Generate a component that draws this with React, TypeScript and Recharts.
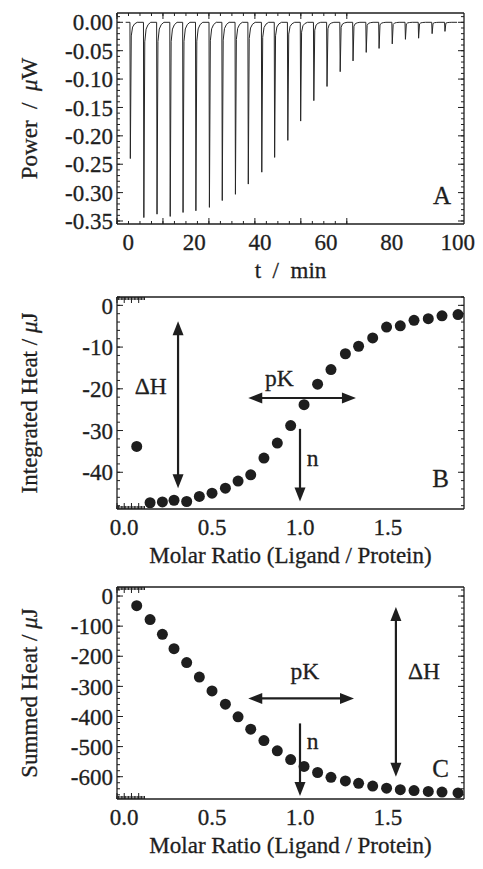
import React from "react";
import { ComposedChart, Line, Scatter, XAxis, YAxis, ReferenceLine, ReferenceDot } from "recharts";

// ---- panel A: raw thermogram ----
const INJECTION_TIMES = [0.5, 4.6, 8.6, 12.6, 16.5, 20.4, 24.5, 28.4, 32.4, 36.3, 40.4, 44.3, 48.3, 52.2, 56.2, 60.2, 64.2, 68.1, 72.1, 76.0, 80.0, 84.0, 88.0, 92.1, 96.0];
const PEAK_POWER = [-0.24, -0.344, -0.338, -0.342, -0.335, -0.332, -0.326, -0.314, -0.303, -0.285, -0.264, -0.238, -0.208, -0.174, -0.138, -0.113, -0.087, -0.068, -0.053, -0.046, -0.038, -0.03, -0.028, -0.02, -0.016];
// shape of one injection peak (minutes after injection, share of peak depth)
const PEAK_SHAPE_DT = [0, 0.12, 0.4, 0.8, 1.4, 2.2];
const PEAK_SHAPE_SHARE = [0, 1, 0.1, 0.035, 0.012, 0];
const TRACE_START = -0.8;
const TRACE_END = 99.8;

// ---- panels B and C ----
const MOLAR_RATIO = [0.072, 0.148, 0.218, 0.284, 0.356, 0.428, 0.5, 0.576, 0.648, 0.72, 0.795, 0.871, 0.947, 1.023, 1.1, 1.176, 1.258, 1.333, 1.413, 1.492, 1.57, 1.648, 1.729, 1.807, 1.898];
const INTEGRATED_HEAT = [-33.8, -47.3, -47.1, -46.7, -47.0, -45.8, -45.0, -43.8, -42.1, -40.6, -36.6, -33.0, -28.8, -23.8, -18.9, -15.4, -11.6, -9.8, -7.8, -5.2, -4.9, -3.6, -3.2, -2.5, -2.2];
const SUMMED_HEAT = [-32, -78, -127, -175, -221, -269, -315, -359, -401, -442, -480, -514, -543, -566, -586, -602, -614, -622, -631, -638, -643, -646, -649, -651, -654];

// tick labels
const A_X_TICKS = [0, 20, 40, 60, 80, 100];
const A_Y_TICKS = [0, -0.05, -0.1, -0.15, -0.2, -0.25, -0.3, -0.35];
const MR_TICKS = [0, 0.5, 1, 1.5];
const B_Y_TICKS = [0, -10, -20, -30, -40];
const C_Y_TICKS = [0, -100, -200, -300, -400, -500, -600];

// annotations (data coordinates)
const B_ARROWS = [
  { from: [0.307, -3.8], to: [0.307, -43.8], both: true },
  { from: [0.706, -22.2], to: [1.318, -22.2], both: true },
  { from: [1.0, -29.6], to: [1.0, -47.0], both: false },
];
const B_NOTES = [
  { x: 0.152, y: -19.2, text: "ΔH" },
  { x: 0.883, y: -17.4, text: "pK" },
  { x: 1.072, y: -36.6, text: "n" },
  { x: 1.799, y: -41.4, text: "B" },
];
const C_ARROWS = [
  { from: [0.706, -340], to: [1.307, -340], both: true },
  { from: [1.0, -423], to: [1.0, -664], both: false },
  { from: [1.545, -36], to: [1.545, -600], both: true },
];
const C_NOTES = [
  { x: 1.028, y: -249, text: "pK" },
  { x: 1.072, y: -481, text: "n" },
  { x: 1.705, y: -249, text: "ΔH" },
  { x: 1.799, y: -572, text: "C" },
];

const INK = "#1e1e1e";
const SERIF = "'Liberation Serif', 'Times New Roman', serif";
const TICK_STYLE = { fontSize: 23, fill: INK, fontFamily: SERIF, stroke: INK, strokeWidth: 0.3 };
const TITLE_STYLE = { fontSize: 23, fill: INK, fontFamily: SERIF, stroke: INK, strokeWidth: 0.3 };

const range = (a: number, b: number, step: number) => {
  const out: number[] = [];
  const n = Math.round((b - a) / step);
  for (let i = 0; i <= n; i++) out.push(+(a + i * step).toFixed(4));
  return out;
};

const traceData: { t: number; p: number }[] = [{ t: TRACE_START, p: 0 }];
INJECTION_TIMES.forEach((t0, i) => {
  PEAK_SHAPE_DT.forEach((dt, j) => traceData.push({ t: t0 + dt, p: PEAK_POWER[i] * PEAK_SHAPE_SHARE[j] }));
});
traceData.push({ t: TRACE_END, p: 0 });

const bData = MOLAR_RATIO.map((mr, i) => ({ mr, q: INTEGRATED_HEAT[i] }));
const cData = MOLAR_RATIO.map((mr, i) => ({ mr, q: SUMMED_HEAT[i] }));

const noTickText = () => <g />;

// inward ticks on all four sides + top/right frame lines
function frameTicks(xDomain: number[], yDomain: number[], xMajor: number[], xMinor: number[], yMajor: number[], yMinor: number[]) {
  const base = {
    type: "number" as const,
    tick: noTickText,
    tickLine: { stroke: INK, strokeWidth: 1 },
    mirror: true,
    interval: 0 as const,
    allowDataOverflow: true,
    stroke: INK,
  };
  const frame = { stroke: INK, strokeWidth: 1.3 };
  const out: React.ReactElement[] = [];
  (["bottom", "top"] as const).forEach((side) => {
    out.push(<XAxis key={`x${side}M`} xAxisId={`${side}M`} orientation={side} domain={xDomain} ticks={xMajor} tickSize={6} height={0.01} axisLine={side === "top" ? frame : false} {...base} />);
    out.push(<XAxis key={`x${side}m`} xAxisId={`${side}m`} orientation={side} domain={xDomain} ticks={xMinor} tickSize={3} height={0.01} axisLine={false} {...base} />);
  });
  (["left", "right"] as const).forEach((side) => {
    out.push(<YAxis key={`y${side}M`} yAxisId={`${side}M`} orientation={side} domain={yDomain} ticks={yMajor} tickSize={6} width={0.01} axisLine={side === "right" ? frame : false} {...base} />);
    out.push(<YAxis key={`y${side}m`} yAxisId={`${side}m`} orientation={side} domain={yDomain} ticks={yMinor} tickSize={3} width={0.01} axisLine={false} {...base} />);
  });
  return out;
}

const xTitle = (content: React.ReactNode) => (props: any) => {
  const vb = props.viewBox;
  if (!vb) return null;
  return (
    <text x={vb.x + vb.width / 2} y={vb.y + 54} textAnchor="middle" style={TITLE_STYLE}>
      {content}
    </text>
  );
};

const yTitle = (content: React.ReactNode) => (props: any) => {
  const vb = props.viewBox;
  if (!vb) return null;
  const cy = vb.y + vb.height / 2;
  return (
    <text x={37} y={cy} transform={`rotate(-90, 37, ${cy})`} textAnchor="middle" style={TITLE_STYLE}>
      {content}
    </text>
  );
};

const arrowShape = (both: boolean) => (props: any) => {
  const { x1, y1, x2, y2 } = props;
  if ([x1, y1, x2, y2].some((v) => typeof v !== "number" || isNaN(v))) return null;
  const a = Math.atan2(y2 - y1, x2 - x1);
  const L = 14;
  const W = 5.5;
  const head = (x: number, y: number, ang: number) => {
    const bx = x - L * Math.cos(ang);
    const by = y - L * Math.sin(ang);
    return `${x},${y} ${bx + W * Math.sin(ang)},${by - W * Math.cos(ang)} ${bx - W * Math.sin(ang)},${by + W * Math.cos(ang)}`;
  };
  const sx = both ? x1 + (L / 2) * Math.cos(a) : x1;
  const sy = both ? y1 + (L / 2) * Math.sin(a) : y1;
  return (
    <g>
      <line x1={sx} y1={sy} x2={x2 - (L / 2) * Math.cos(a)} y2={y2 - (L / 2) * Math.sin(a)} stroke={INK} strokeWidth={2.2} />
      <polygon points={head(x2, y2, a)} fill={INK} />
      {both && <polygon points={head(x1, y1, a + Math.PI)} fill={INK} />}
    </g>
  );
};

const renderArrows = (arrows: typeof B_ARROWS) =>
  arrows.map((ar, i) => (
    <ReferenceLine
      key={`ar${i}`}
      segment={[{ x: ar.from[0], y: ar.from[1] }, { x: ar.to[0], y: ar.to[1] }]}
      shape={arrowShape(ar.both)}
      ifOverflow="visible"
    />
  ));

const noteLabel = (text: string) => ({
  value: text,
  position: "center" as const,
  fontSize: text === "A" || text === "B" || text === "C" ? 25 : 23.5,
  fill: INK,
  fontFamily: SERIF,
  stroke: INK,
  strokeWidth: 0.3,
});

const renderNotes = (notes: typeof B_NOTES) =>
  notes.map((n, i) => (
    <ReferenceDot key={`nt${i}`} x={n.x} y={n.y} r={0} fill="none" stroke="none" ifOverflow="visible" label={noteLabel(n.text)} />
  ));

const dotShape = (p: any) => <circle cx={p.cx} cy={p.cy} r={5.5} fill={INK} />;

const mainX = (domain: number[], ticks: number[], fmt: (v: number) => string, title: React.ReactNode, height: number, dataKey: string) => (
  <XAxis
    dataKey={dataKey}
    type="number"
    domain={domain}
    ticks={ticks}
    interval={0}
    allowDataOverflow
    tickFormatter={fmt}
    tick={TICK_STYLE}
    tickLine={false}
    tickSize={0}
    tickMargin={10}
    axisLine={{ stroke: INK, strokeWidth: 1.3 }}
    height={height}
    label={xTitle(title)}
  />
);

const mainY = (domain: number[], ticks: number[], fmt: (v: number) => string, title: React.ReactNode) => (
  <YAxis
    type="number"
    domain={domain}
    ticks={ticks}
    interval={0}
    allowDataOverflow
    tickFormatter={fmt}
    tick={TICK_STYLE}
    tickLine={false}
    tickSize={0}
    tickMargin={4}
    axisLine={{ stroke: INK, strokeWidth: 1.3 }}
    width={117}
    label={yTitle(title)}
  />
);

const A_XDOM = [-3.43, 101.9];
const A_YDOM = [-0.3553, 0.0164];
const MR_DOM = [-0.04, 1.932];
const B_YDOM = [-48.8, 2.0];
const C_YDOM = [-674, 30];

function PanelA() {
  return (
    <ComposedChart width={483} height={290} data={traceData} margin={{ top: 13, right: 19, bottom: 0, left: 0 }}>
      {mainX(A_XDOM, A_X_TICKS, (v) => String(v), "t\u00a0\u00a0/\u00a0\u00a0min", 66, "t")}
      {mainY(A_YDOM, A_Y_TICKS, (v) => v.toFixed(2), <>Power{"\u00a0\u00a0/\u00a0\u00a0"}<tspan fontStyle="italic">μ</tspan>W</>)}
      {frameTicks(A_XDOM, A_YDOM, A_X_TICKS, range(0, 100, 5), A_Y_TICKS, range(-0.35, 0.01, 0.01))}
      <Line dataKey="p" type="linear" stroke="#262626" strokeWidth={1} dot={false} isAnimationActive={false} />
      <ReferenceDot x={95.2} y={-0.305} r={0} fill="none" stroke="none" label={noteLabel("A")} />
    </ComposedChart>
  );
}

function PanelB() {
  return (
    <ComposedChart width={483} height={290} data={bData} margin={{ top: 7, right: 19, bottom: 0, left: 0 }}>
      {mainX(MR_DOM, MR_TICKS, (v) => v.toFixed(1), "Molar Ratio (Ligand / Protein)", 71, "mr")}
      {mainY(B_YDOM, B_Y_TICKS, (v) => String(v), <>Integrated Heat / <tspan fontStyle="italic">μ</tspan>J</>)}
      {frameTicks(MR_DOM, B_YDOM, MR_TICKS, range(0, 1.9, 0.1), B_Y_TICKS, range(-48, 2, 2))}
      <Scatter dataKey="q" shape={dotShape} isAnimationActive={false} />
      {renderArrows(B_ARROWS)}
      {renderNotes(B_NOTES)}
    </ComposedChart>
  );
}

function PanelC() {
  return (
    <ComposedChart width={483} height={289} data={cData} margin={{ top: 7, right: 19, bottom: 0, left: 0 }}>
      {mainX(MR_DOM, MR_TICKS, (v) => v.toFixed(1), "Molar Ratio (Ligand / Protein)", 70, "mr")}
      {mainY(C_YDOM, C_Y_TICKS, (v) => String(v), <>Summed Heat / <tspan fontStyle="italic">μ</tspan>J</>)}
      {frameTicks(MR_DOM, C_YDOM, MR_TICKS, range(0, 1.9, 0.1), C_Y_TICKS, range(-660, 20, 20))}
      <Scatter dataKey="q" shape={dotShape} isAnimationActive={false} />
      {renderArrows(C_ARROWS)}
      {renderNotes(C_NOTES)}
    </ComposedChart>
  );
}

export default function App() {
  return (
    <div style={{ position: "absolute", left: 0, top: 0, width: 483, height: 869, background: "#fff" }}>
      <div style={{ position: "absolute", left: 0, top: 0 }}>
        <PanelA />
      </div>
      <div style={{ position: "absolute", left: 0, top: 290 }}>
        <PanelB />
      </div>
      <div style={{ position: "absolute", left: 0, top: 580 }}>
        <PanelC />
      </div>
    </div>
  );
}
